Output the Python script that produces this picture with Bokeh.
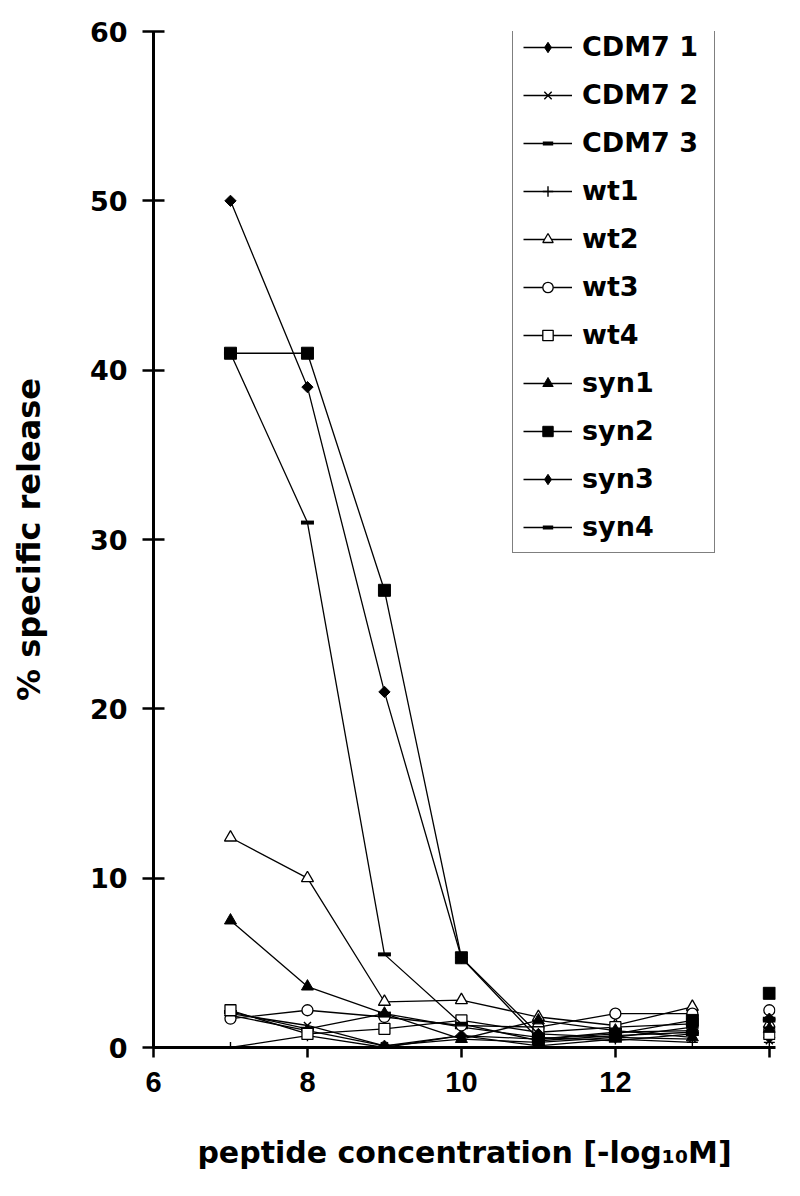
import math
from bokeh.plotting import figure
from bokeh.models import Range1d, FixedTicker, Legend, LegendItem
from bokeh.embed import file_html
from bokeh.resources import INLINE

# peptide concentration [-log10 M]; 14 = control point (not connected)
conc = [7, 8, 9, 10, 11, 12, 13]
ctrl_conc = [14]

cdm7_1 = [1.9, 1.0, 0.1, 0.7, 0.5, 0.9, 1.0]
cdm7_1_ctrl = [0.6]
cdm7_2 = [2.0, 1.3, 0.1, 0.5, 0.3, 0.6, 0.5]
cdm7_2_ctrl = [0.4]
cdm7_3 = [2.1, 1.1, 2.0, 1.2, 0.6, 0.4, 0.8]
cdm7_3_ctrl = [1.6]
wt1 = [0.0, 0.7, 0.0, 0.7, 0.1, 0.5, 0.3]
wt1_ctrl = [0.3]
wt2 = [12.4, 10.0, 2.7, 2.8, 1.8, 1.3, 2.4]
wt2_ctrl = [1.4]
wt3 = [1.7, 2.2, 1.8, 1.3, 1.2, 2.0, 2.0]
wt3_ctrl = [2.2]
wt4 = [2.2, 0.8, 1.1, 1.6, 0.9, 1.2, 1.4]
wt4_ctrl = [0.8]
syn1 = [7.5, 3.6, 2.0, 0.5, 1.6, 1.0, 0.6]
syn1_ctrl = [1.1]
syn2 = [41.0, 41.0, 27.0, 5.3, 0.5, 0.8, 1.6]
syn2_ctrl = [3.2]
syn3 = [50.0, 39.0, 21.0, 5.3, 0.8, 0.6, 1.2]
syn3_ctrl = [1.7]
syn4 = [41.0, 31.0, 5.5, 1.4, 0.4, 0.7, 0.9]
syn4_ctrl = [1.7]

names = ["CDM7 1", "CDM7 2", "CDM7 3", "wt1", "wt2", "wt3", "wt4",
         "syn1", "syn2", "syn3", "syn4"]
series = [(cdm7_1, cdm7_1_ctrl), (cdm7_2, cdm7_2_ctrl), (cdm7_3, cdm7_3_ctrl),
          (wt1, wt1_ctrl), (wt2, wt2_ctrl), (wt3, wt3_ctrl), (wt4, wt4_ctrl),
          (syn1, syn1_ctrl), (syn2, syn2_ctrl), (syn3, syn3_ctrl), (syn4, syn4_ctrl)]

y_ticks = [0, 10, 20, 30, 40, 50, 60]
x_ticks = [6, 8, 10, 12, 14]

# marker styles: (plot marker, size, angle, fill, line_width, legend marker)
styles = {
    "CDM7 1": ("square", 8, math.pi / 4, "black", 1.0, "diamond"),
    "CDM7 2": ("x", 10, 0, "black", 1.4, None),
    "CDM7 3": ("dash", 13, 0, "black", 4.0, None),
    "wt1": ("cross", 11, 0, "black", 1.4, None),
    "wt2": ("triangle", 12, 0, "white", 1.3, None),
    "wt3": ("circle", 11, 0, "white", 1.3, None),
    "wt4": ("square", 11, 0, "white", 1.3, None),
    "syn1": ("triangle", 12, 0, "black", 1.0, None),
    "syn2": ("square", 12, 0, "black", 1.0, None),
    "syn3": ("square", 8, math.pi / 4, "black", 1.0, "diamond"),
    "syn4": ("dash", 13, 0, "black", 4.0, None),
}

p = figure(width=790, height=1190, output_backend="svg", toolbar_location=None,
           x_range=Range1d(6, 14.08), y_range=Range1d(0, 60),
           min_border_left=153, min_border_right=15, min_border_top=31,
           min_border_bottom=143)
p.outline_line_color = None
p.xgrid.visible = False
p.ygrid.visible = False
p.background_fill_color = "white"
p.border_fill_color = "white"

# y axis
ya = p.yaxis[0]
ya.ticker = FixedTicker(ticks=y_ticks)
ya.axis_line_width = 3
ya.axis_line_color = "black"
ya.major_tick_in = 11
ya.major_tick_out = 11
ya.major_tick_line_width = 2.5
ya.minor_tick_line_color = None
ya.major_label_text_font = "DejaVu Sans"
ya.major_label_text_font_style = "bold"
ya.major_label_text_font_size = "27px"
ya.major_label_text_color = "black"
ya.major_label_standoff = 15
ya.axis_label = "% specific release"
ya.axis_label_text_font = "DejaVu Sans"
ya.axis_label_text_font_style = "bold"
ya.axis_label_text_font_size = "32px"
ya.axis_label_text_color = "black"
ya.axis_label_standoff = 39

# x axis
xa = p.xaxis[0]
xa.ticker = FixedTicker(ticks=x_ticks)
xa.major_label_overrides = {14: ""}
xa.axis_line_width = 3
xa.axis_line_color = "black"
xa.major_tick_in = 0
xa.major_tick_out = 10
xa.major_tick_line_width = 2.5
xa.minor_tick_line_color = None
xa.major_label_text_font = "Liberation Sans"
xa.major_label_text_font_style = "bold"
xa.major_label_text_font_size = "29px"
xa.major_label_text_color = "black"
xa.major_label_standoff = 14
xa.axis_label = "peptide concentration [-log\u2081\u2080M]"
xa.axis_label_text_font = "DejaVu Sans"
xa.axis_label_text_font_style = "bold"
xa.axis_label_text_font_size = "30px"
xa.axis_label_text_color = "black"
xa.axis_label_standoff = 40

items = []
for name, (vals, ctrl) in zip(names, series):
    marker, size, angle, fill, lw, leg_marker = styles[name]
    lr = p.line(conc, vals, line_color="black", line_width=1.3)
    sr = p.scatter(conc + ctrl_conc, vals + ctrl, marker=marker, size=size,
                   angle=angle, fill_color=fill, line_color="black",
                   line_width=lw)
    if leg_marker is None:
        items.append(LegendItem(label=name, renderers=[lr, sr]))
    else:
        # hidden twin, used only to draw a diamond in the legend
        hr = p.scatter(conc + ctrl_conc, vals + ctrl, marker=leg_marker,
                       size=14, fill_color=fill, line_color="black",
                       line_width=lw, visible=False)
        items.append(LegendItem(label=name, renderers=[lr, hr]))

legend = Legend(items=items, location=(359, 494),
                glyph_width=49, glyph_height=26, label_height=30,
                label_width=122, spacing=17, padding=10, margin=0,
                label_standoff=10,
                label_text_font="DejaVu Sans", label_text_font_style="bold",
                label_text_font_size="27px", label_text_color="black",
                border_line_color="black", border_line_width=1.5,
                background_fill_color="white", background_fill_alpha=1.0,
                inactive_fill_alpha=0.0)
p.add_layout(legend, "center")

open("out.html", "w").write(file_html(p, INLINE))
